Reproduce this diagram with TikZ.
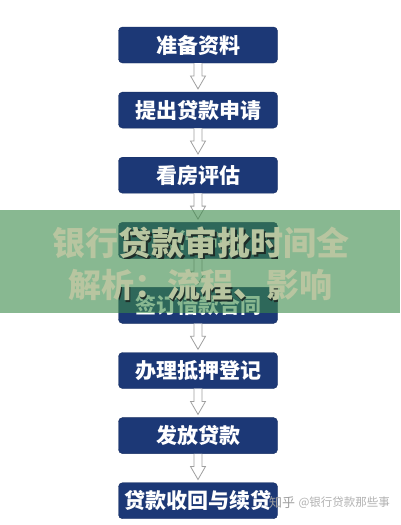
\documentclass[tikz,border=0pt]{standalone}
\usepackage{fontspec}
\newfontfamily\cjk{Noto Sans CJK SC}
\usetikzlibrary{positioning,calc}

\definecolor{navy}{RGB}{28,56,118}
\definecolor{bandgreen}{RGB}{58,137,72}
\definecolor{beige}{RGB}{184,197,160}
\definecolor{shade}{RGB}{30,45,40}

\tikzset{
  stepbox/.style={draw=navy!85!black, fill=navy, rounded corners=4pt,
    minimum width=159pt, minimum height=36pt, inner sep=0pt, text=white,
    font=\cjk\bfseries\fontsize{21}{21}\selectfont},
  hollow/.style={draw=gray!75, fill=white, line width=0.8pt, line join=miter},
  titletext/.style={font=\cjk\bfseries\fontsize{33}{33}\selectfont, inner sep=0pt},
}

% hollow down arrow from box #1 to box #2
\newcommand{\flowarrow}[2]{%
  \draw[hollow] ($(#1.south)+(-4,0)$) -- ($(#2.north)+(-4,16)$)
    -- ($(#2.north)+(-7.5,16)$) -- ($(#2.north)+(0,3)$)
    -- ($(#2.north)+(7.5,16)$) -- ($(#2.north)+(4,16)$)
    -- ($(#1.south)+(4,0)$);}

\begin{document}
\begin{tikzpicture}[x=1pt,y=1pt]
  \useasboundingbox (0,0) rectangle (400,-525);
  \fill[white] (0,0) rectangle (400,-525);

  %steps
  \node[stepbox] (s1) at (198,-45) {准备资料};
  \node[stepbox, below=28.7pt of s1] (s2) {提出贷款申请};
  \node[stepbox, below=28.7pt of s2] (s3) {看房评估};
  \node[stepbox, below=28.7pt of s3] (s4) {银行审批};
  \node[stepbox, below=28.7pt of s4] (s5) {签订借款合同};
  \node[stepbox, below=28.7pt of s5] (s6) {办理抵押登记};
  \node[stepbox, below=28.7pt of s6] (s7) {发放贷款};
  \node[stepbox, below=28.7pt of s7] (s8) {贷款收回与续贷};

  %arrows
  \foreach \a/\b in {s1/s2,s2/s3,s3/s4,s4/s5,s5/s6,s6/s7,s7/s8}
    \flowarrow{\a}{\b};

  %green band over the middle
  \fill[bandgreen, opacity=0.6] (0,-210) rectangle (400,-313);

  %shadow of the title, seen only on the boxes
  \begin{scope}
    \clip (s4.north west) rectangle (s4.south east)
          (s5.north west) rectangle (s5.south east);
    \node[titletext, text=shade] at (202.5,-244.5) {银行贷款审批时间全};
    \node[titletext, text=shade] at (201.5,-286.5) {解析：流程、影响};
  \end{scope}

  %title
  \node[titletext, text=beige] (title1) at (201,-243) {银行贷款审批时间全};
  \node[titletext, text=beige] (title2) at (200,-285) {解析：流程、影响};

  %watermark
  \node[anchor=west, inner sep=0pt, text=gray!75,
    font=\cjk\fontsize{13}{13}\selectfont] (zhihu) at (269,-503) {知乎};
  \node[right=3pt of zhihu, inner sep=0pt, text=gray!60,
    font=\cjk\fontsize{11.5}{11.5}\selectfont] (acct) {@银行贷款那些事};
\end{tikzpicture}
\end{document}
